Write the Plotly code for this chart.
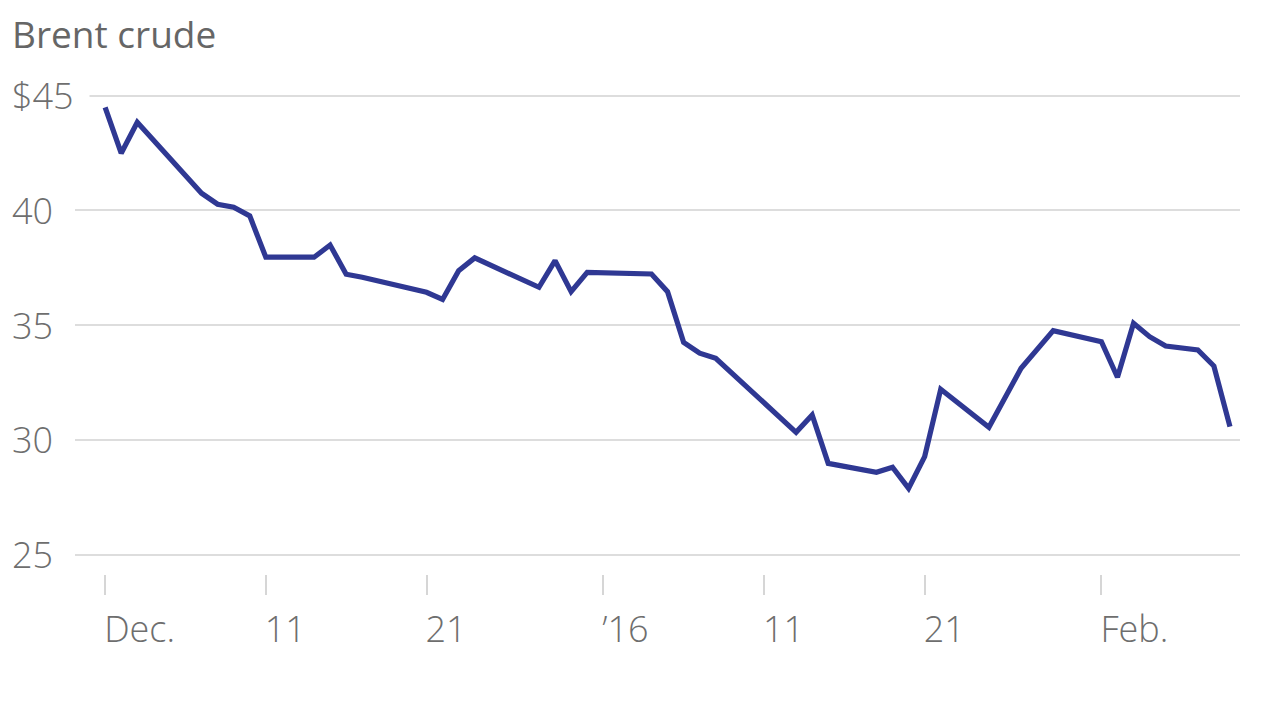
import plotly.graph_objects as go

dates = ["2015-12-01", "2015-12-02", "2015-12-03", "2015-12-07", "2015-12-08", "2015-12-09",
         "2015-12-10", "2015-12-11", "2015-12-14", "2015-12-15", "2015-12-16", "2015-12-17",
         "2015-12-21", "2015-12-22", "2015-12-23", "2015-12-24", "2015-12-28", "2015-12-29",
         "2015-12-30", "2015-12-31", "2016-01-04", "2016-01-05", "2016-01-06", "2016-01-07",
         "2016-01-08", "2016-01-12", "2016-01-13", "2016-01-14", "2016-01-15", "2016-01-18",
         "2016-01-19", "2016-01-20", "2016-01-21", "2016-01-22", "2016-01-25", "2016-01-27",
         "2016-01-29", "2016-02-01", "2016-02-02", "2016-02-03", "2016-02-04", "2016-02-05",
         "2016-02-07", "2016-02-08", "2016-02-09"]
brent = [44.49, 42.49, 43.84, 40.75, 40.27, 40.14,
         39.76, 37.96, 37.96, 38.49, 37.22, 37.09,
         36.43, 36.12, 37.37, 37.93, 36.65, 37.81,
         36.46, 37.30, 37.23, 36.46, 34.25, 33.78,
         33.56, 30.94, 30.33, 31.09, 28.98, 28.59,
         28.81, 27.89, 29.27, 32.21, 30.55, 33.12,
         34.76, 34.28, 32.73, 35.08, 34.50, 34.09,
         33.92, 33.22, 30.58]

x_tick_vals = ["2015-12-01", "2015-12-11", "2015-12-21", "2016-01-01", "2016-01-11", "2016-01-21", "2016-02-01"]
x_tick_text = ["Dec.", "11", "21", "\u201916", "11", "21", "Feb."]
y_tick_vals = [45, 40, 35, 30, 25]
y_tick_text = ["$45", "40", "35", "30", "25"]

title_text = "Brent crude"

LINE = "#2f3893"
GRID = "#dddddd"
TXT = "#6e6e6e"
FONT = "Open Sans"

fig = go.Figure()
fig.add_trace(go.Scatter(x=dates, y=brent, mode="lines",
                         line=dict(color=LINE, width=5.2), hoverinfo="skip",
                         showlegend=False))

annotations = []
for v, t in zip(y_tick_vals, y_tick_text):
    annotations.append(dict(
        xref="paper", yref="y", x=0, y=v, xanchor="left", yanchor="middle",
        xshift=-79, text=t, showarrow=False, bgcolor="white", borderpad=15,
        font=dict(family=FONT, size=36, color=TXT, weight=300)))

fig.update_layout(
    width=1280, height=720,
    margin=dict(l=67, r=48, t=72, b=154),
    paper_bgcolor="white", plot_bgcolor="white",
    title=dict(text=title_text, x=4 / 1280, xanchor="left", xref="container",
               y=1 - 14 / 720, yanchor="top", yref="container",
               font=dict(family=FONT, size=37, color="#666666")),
    annotations=annotations,
    xaxis=dict(
        type="date", range=["2015-11-29 03:00", "2016-02-09 15:00"],
        tickmode="array", tickvals=x_tick_vals, ticktext=x_tick_text,
        ticks="outside", ticklen=20, tickwidth=2, tickcolor="#d6d6d6",
        ticklabelposition="outside right", ticklabelstandoff=24, ticklabelshift=-2,
        showgrid=False, showline=False, zeroline=False,
        tickfont=dict(family=FONT, size=36, color=TXT, weight=300)),
    yaxis=dict(
        range=[24.16, 45.68], tickmode="array", tickvals=y_tick_vals,
        showticklabels=False, showgrid=True, gridcolor=GRID, gridwidth=2,
        zeroline=False, showline=False, ticks=""),
)

fig.write_html("out.html")
